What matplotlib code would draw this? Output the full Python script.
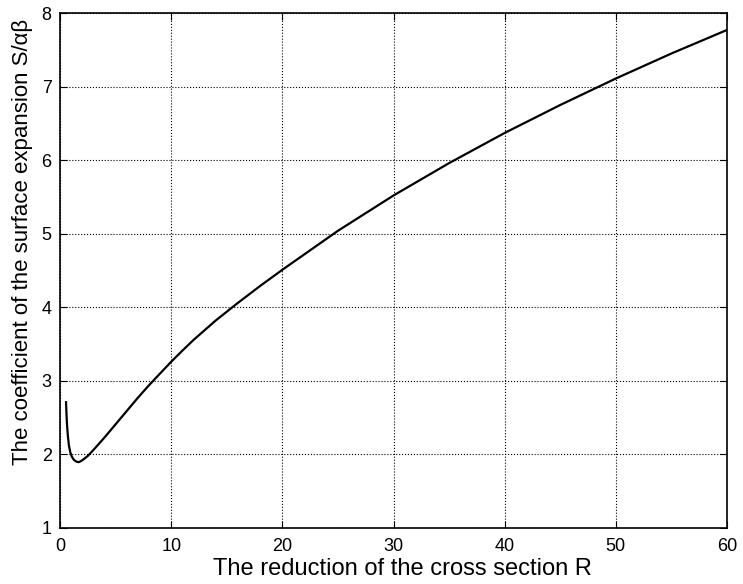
import matplotlib.pyplot as plt

# values
R = [0.54, 0.58, 0.63, 0.7, 0.8, 0.92, 1.06, 1.25, 1.5, 1.7, 2.0, 2.5, 3, 4,
     5, 6, 7, 8, 9, 10, 11, 12, 14, 16, 18, 20, 25, 30, 35, 40, 45, 50, 55, 60]
S = [2.71, 2.55, 2.40, 2.26, 2.12, 2.03, 1.97, 1.925, 1.9, 1.895, 1.92, 1.98,
     2.06, 2.23, 2.41, 2.59, 2.77, 2.94, 3.10, 3.26, 3.41, 3.555, 3.82, 4.06,
     4.29, 4.51, 5.04, 5.52, 5.96, 6.37, 6.75, 7.11, 7.45, 7.77]

x_ticks = [0, 10, 20, 30, 40, 50, 60]
y_ticks = [1, 2, 3, 4, 5, 6, 7, 8]

plt.rcParams['font.family'] = ['Liberation Sans', 'DejaVu Sans']

fig = plt.figure(figsize=(7.43, 5.84), dpi=100)
ax = fig.add_axes([0.0808, 0.0959, 0.8977, 0.8818])

ax.plot(R, S, color='black', linewidth=1.6)
ax.set_xlim(0, 60)
ax.set_ylim(1, 8)
ax.set_xticks(x_ticks)
ax.set_yticks(y_ticks)
ax.grid(True, color='black', linestyle=':', linewidth=0.8)
ax.tick_params(direction='in', top=True, right=True, labelsize=13, length=5)
ax.tick_params(axis='x', pad=7)
ax.tick_params(axis='y', pad=6)
for s in ax.spines.values():
    s.set_linewidth(1.2)

ax.set_xlabel('The reduction of the cross section R', fontsize=17)
ax.set_ylabel('The coefficient of the surface expansion S/αβ', fontsize=16)
ax.xaxis.set_label_coords(0.513, -0.058)
ax.yaxis.set_label_coords(-0.04, 0.555)

plt.savefig('out.png', dpi=100)
